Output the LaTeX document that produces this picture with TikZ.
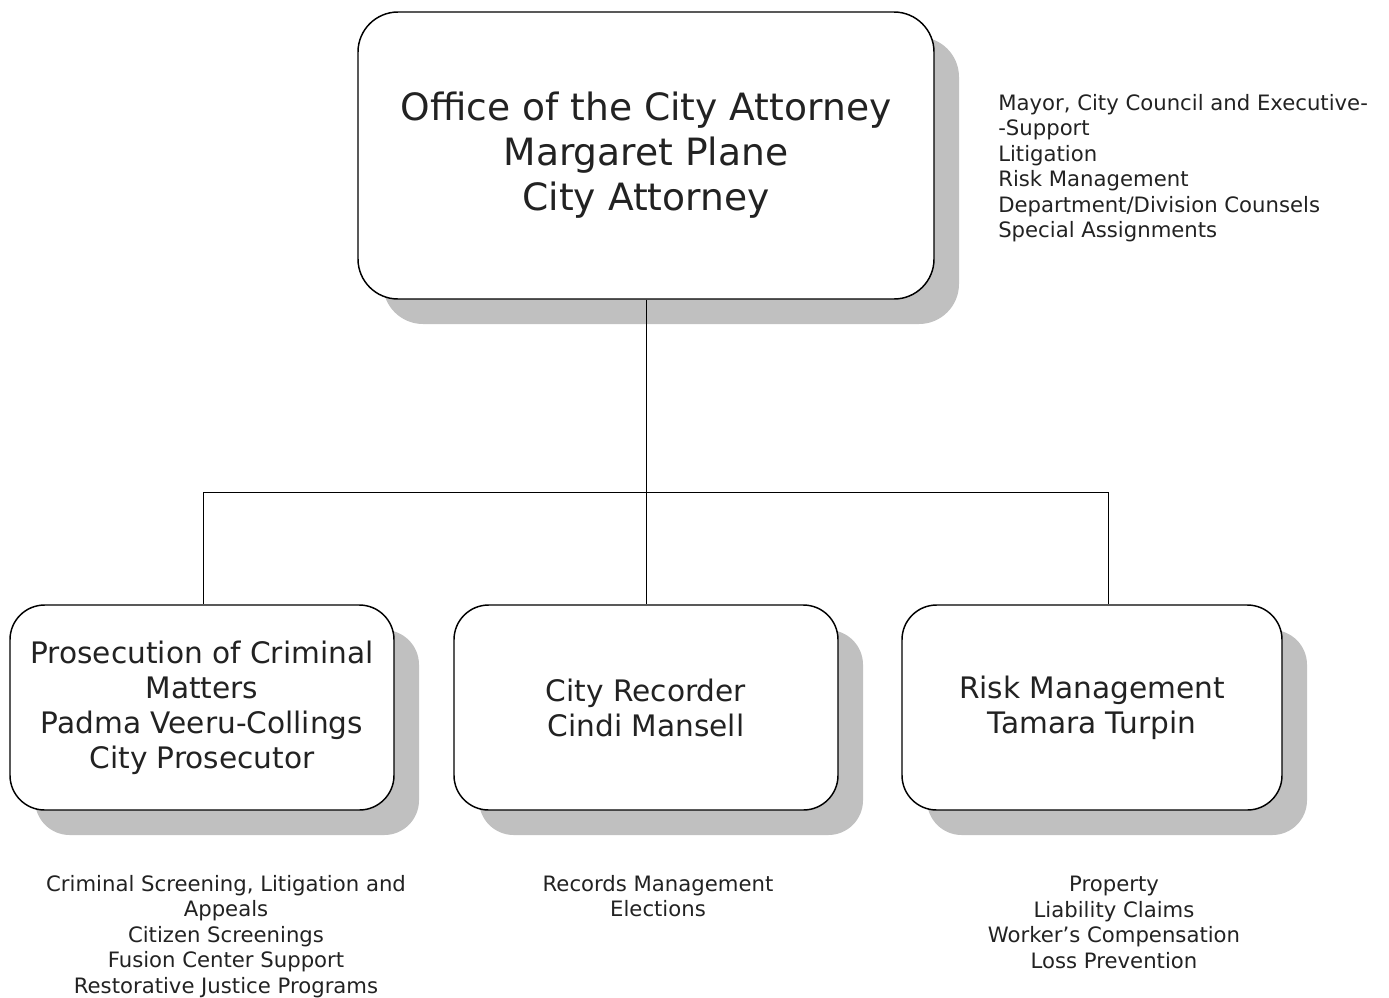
\documentclass[tikz,border=0pt]{standalone}
\usepackage{fontspec}
\setmainfont{DejaVu Sans}
\usetikzlibrary{shadows}
\definecolor{shadowgray}{HTML}{C0C0C0}
\definecolor{inkgray}{HTML}{222222}
\begin{document}
\begin{tikzpicture}[x=0.75pt,y=-0.75pt,
  every node/.style={text=inkgray},
  unit/.style={draw=black, line width=1.1pt, fill=white, align=center, inner sep=0pt,
    drop shadow={shadow xshift=18.75pt, shadow yshift=-18.75pt, fill=shadowgray, opacity=1}},
  headbox/.style={unit, rounded corners=30pt, minimum width=432pt, minimum height=215.25pt,
    font=\fontsize{28.2pt}{33.75pt}\selectfont},
  subbox/.style={unit, rounded corners=26pt, minimum height=153.75pt,
    font=\fontsize{22.2pt}{26.25pt}\selectfont},
  duties/.style={inner sep=0pt, font=\fontsize{15.9pt}{19.1pt}\selectfont},
  link/.style={draw=black, line width=0.75pt}]
\useasboundingbox (0,0) rectangle (1389,997);

% head of the office
\node[headbox] (head) at (646,155.5) {Office of the City Attorney\\Margaret Plane\\City Attorney};

% divisions
\node[subbox, minimum width=288pt] (pros) at (202,707.5) {Prosecution of Criminal\\Matters\\Padma Veeru-Collings\\City Prosecutor};
\node[subbox, minimum width=288pt] (rec) at (646,707.5) {City Recorder\\Cindi Mansell};
\node[subbox, minimum width=285pt] (risk) at (1092,707.5) {Risk Management\\Tamara Turpin};

% responsibilities
\node[duties, anchor=north west, align=left] (headduties) at (998,94)
  {Mayor, City Council and Executive-\\-Support\\Litigation\\Risk Management\\Department/Division Counsels\\Special Assignments};
\node[duties, anchor=north, align=center] (prosduties) at (226,875)
  {Criminal Screening, Litigation and\\Appeals\\Citizen Screenings\\Fusion Center Support\\Restorative Justice Programs};
\node[duties, anchor=north, align=center] (recduties) at (658,875)
  {Records Management\\Elections};
\node[duties, anchor=north, align=center] (riskduties) at (1114,876)
  {Property\\Liability Claims\\Worker’s Compensation\\Loss Prevention};

% connectors
\coordinate (busL) at (203,492);
\coordinate (busR) at (1108,492);
\coordinate (busM) at (head.south |- busL);
\draw[link] (head.south) -- (busM);
\draw[link] (busL) -- (busR);
\draw[link] (busL) -- (busL |- pros.north);
\draw[link] (busM) -- (rec.north);
\draw[link] (busR) -- (busR |- risk.north);
\end{tikzpicture}
\end{document}
